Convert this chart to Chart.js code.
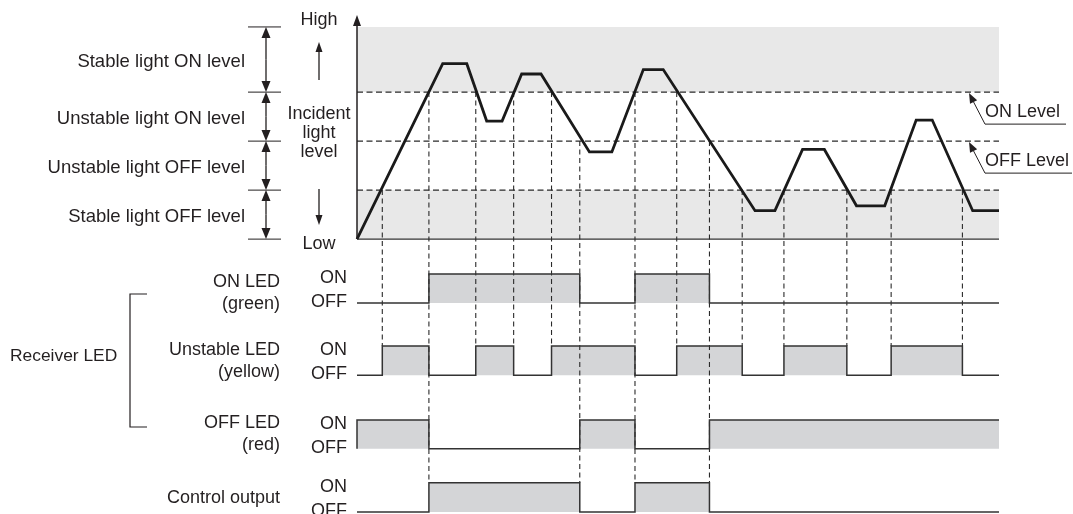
<!DOCTYPE html>
<html>
<head>
<meta charset="utf-8">
<script src="https://cdn.jsdelivr.net/npm/chart.js@4.4.1/dist/chart.umd.min.js"></script>
<style>
  html, body { margin: 0; padding: 0; background: #fff; }
  #wrap { width: 1073px; height: 514px; }
</style>
</head>
<body>
<div id="wrap"><canvas id="timing"></canvas></div>
<script>
// incident light waveform: time and level (0 = Low)
const lightTimes  = [0, 13.35, 17.1, 20.2, 22.6, 25.65, 28.66, 36.2, 39.7, 44.6, 47.7, 62.0, 65.1, 69.4, 72.8, 77.8, 82.2, 87.1, 89.6, 95.9, 100];
const lightLevels = [0, 3.58, 3.58, 2.41, 2.41, 3.37, 3.37, 1.78, 1.78, 3.46, 3.46, 0.58, 0.58, 1.83, 1.83, 0.68, 0.68, 2.43, 2.43, 0.58, 0.58];

// level boundaries: stable OFF | OFF Level | ON Level, and top of the scale
const thresholds = [1, 2, 3];
const levelTop = 4.33;

// moments the waveform crosses a boundary, which boundary, and which row the guide reaches
const crossTimes  = [3.94, 11.2, 18.5, 24.4, 30.3, 34.7, 43.3, 49.8, 54.9, 60.0, 66.5, 76.3, 83.2, 94.3];
const crossLevels = [1, 3, 3, 3, 3, 2, 3, 3, 2, 1, 1, 1, 1, 1];
const crossReach  = [1, 3, 1, 1, 1, 3, 3, 1, 3, 1, 1, 1, 1, 1];

// output signals: edge times and state after each edge (1 = ON)
const onLedEdges    = [0, 11.2, 34.7, 43.3, 54.9, 100];
const onLedStates   = [0, 1, 0, 1, 0, 0];
const unstEdges     = [0, 3.94, 11.2, 18.5, 24.4, 30.3, 43.3, 49.8, 60.0, 66.5, 76.3, 83.2, 94.3, 100];
const unstStates    = [0, 1, 0, 1, 0, 1, 0, 1, 0, 1, 0, 1, 0, 0];
const offLedEdges   = [0, 0, 11.2, 34.7, 43.3, 54.9, 100];
const offLedStates  = [0, 1, 0, 1, 0, 1, 1];
const ctrlEdges     = [0, 11.2, 34.7, 43.3, 54.9, 100];
const ctrlStates    = [0, 1, 0, 1, 0, 0];

const levelNames = ['Stable light ON level', 'Unstable light ON level', 'Unstable light OFF level', 'Stable light OFF level'];

// layout of the signal rows below the level plot (same y units)
const rows = [
  { label: ['ON LED', '(green)'], high: -0.714, low: -1.306, dy: 4, edges: onLedEdges, states: onLedStates },
  { label: ['Unstable LED', '(yellow)'], high: -2.18, low: -2.78, dy: 0, edges: unstEdges, states: unstStates },
  { label: ['OFF LED', '(red)'], high: -3.69, low: -4.28, dy: 0, edges: offLedEdges, states: offLedStates },
  { label: ['Control output'], high: -4.97, low: -5.57, dy: 1, edges: ctrlEdges, states: ctrlStates }
];

const ink = '#231f20';
const font = '18px "Liberation Sans", Arial, sans-serif';

function arrowTo(ctx, x0, y0, x1, y1, len, half) {
  const a = Math.atan2(y1 - y0, x1 - x0);
  const bx = x1 - len * Math.cos(a), by = y1 - len * Math.sin(a);
  const px = -Math.sin(a) * half, py = Math.cos(a) * half;
  ctx.beginPath();
  ctx.moveTo(x0, y0);
  ctx.lineTo(bx, by);
  ctx.stroke();
  ctx.beginPath();
  ctx.moveTo(x1, y1);
  ctx.lineTo(bx + px, by + py);
  ctx.lineTo(bx - px, by - py);
  ctx.closePath();
  ctx.fill();
}

function line(ctx, x0, y0, x1, y1) {
  ctx.beginPath();
  ctx.moveTo(x0, y0);
  ctx.lineTo(x1, y1);
  ctx.stroke();
}

const annotate = {
  id: 'annotate',
  afterDraw(chart) {
    const ctx = chart.ctx;
    const X = v => chart.scales.x.getPixelForValue(v);
    const Y = v => chart.scales.y.getPixelForValue(v);
    ctx.save();
    ctx.fillStyle = ink;
    ctx.strokeStyle = ink;
    ctx.font = font;
    ctx.textBaseline = 'middle';

    // vertical axis with arrow
    ctx.lineWidth = 1.5;
    arrowTo(ctx, X(0), Y(0), X(0), 15, 11, 4);

    // level names and dimension arrows
    const marks = [levelTop, 3, 2, 1, 0];
    ctx.textAlign = 'right';
    ctx.font = '18.5px "Liberation Sans", Arial, sans-serif';
    for (let i = 0; i < levelNames.length; i++) {
      ctx.fillText(levelNames[i], 245, (Y(marks[i]) + Y(marks[i + 1])) / 2 + 2);
    }
    ctx.font = font;
    ctx.lineWidth = 1;
    marks.forEach(m => line(ctx, 248, Y(m), 281, Y(m)));
    ctx.lineWidth = 1.3;
    for (let i = 0; i < 4; i++) {
      const a = Y(marks[i]), b = Y(marks[i + 1]);
      const mid = (a + b) / 2;
      arrowTo(ctx, 266, mid, 266, a, 11, 4.5);
      arrowTo(ctx, 266, mid, 266, b, 11, 4.5);
    }

    // High / Low and the incident light caption
    ctx.textAlign = 'center';
    ctx.fillText('High', 319, Y(levelTop) - 7);
    ctx.fillText('Low', 319, Y(0) + 5);
    ['Incident', 'light', 'level'].forEach((s, i) => ctx.fillText(s, 319, 114 + i * 19));
    ctx.lineWidth = 1.3;
    arrowTo(ctx, 319, 80, 319, 42, 10, 3.5);
    arrowTo(ctx, 319, 189, 319, 225, 10, 3.5);

    // ON / OFF level call-outs
    ctx.textAlign = 'left';
    ctx.lineWidth = 1;
    [[3, 'ON Level', 1066], [2, 'OFF Level', 1072]].forEach(([lv, txt, end]) => {
      const ty = Y(lv) + 1;
      const by = ty + 31;
      arrowTo(ctx, 985, by, 969, ty, 10, 4);
      line(ctx, 985, by, end, by);
      ctx.fillText(txt, 985, by - 12);
    });

    // signal row labels
    rows.forEach(r => {
      const top = Y(r.high), bot = Y(r.low);
      const mid = (top + bot) / 2 + r.dy;
      ctx.textAlign = 'right';
      if (r.label.length === 2) {
        ctx.fillText(r.label[0], 280, mid - 11);
        ctx.fillText(r.label[1], 280, mid + 11);
      } else {
        ctx.fillText(r.label[0], 280, mid);
      }
      ctx.fillText('ON', 347, top + 4);
      ctx.fillText('OFF', 347, bot - 1);
    });

    // receiver LED bracket
    ctx.textAlign = 'left';
    ctx.font = '17.4px "Liberation Sans", Arial, sans-serif';
    ctx.fillText('Receiver LED', 10, 356);
    ctx.lineWidth = 1.2;
    ctx.beginPath();
    ctx.moveTo(147, 294);
    ctx.lineTo(130, 294);
    ctx.lineTo(130, 427);
    ctx.lineTo(147, 427);
    ctx.stroke();
    ctx.restore();
  }
};

const flat = (x0, x1, v) => [{ x: x0, y: v }, { x: x1, y: v }];

const thresholdData = [];
thresholds.forEach(v => thresholdData.push(...flat(0, 100, v), { x: 100, y: null }));

const guideData = [];
crossTimes.forEach((t, i) => {
  guideData.push({ x: t, y: crossLevels[i] }, { x: t, y: rows[crossReach[i]].high }, { x: t, y: null });
});

const datasets = [
  {
    data: lightTimes.map((t, i) => ({ x: t, y: lightLevels[i] })),
    borderColor: '#1a1a1a', borderWidth: 2.8, order: 0
  },
  {
    data: guideData, borderColor: '#2a2a2a', borderWidth: 1.1,
    borderDash: [5, 3.5], spanGaps: false, order: 2
  },
  {
    data: thresholdData, borderColor: '#2a2a2a', borderWidth: 1.1,
    borderDash: [6, 3.5], spanGaps: false, order: 2
  },
  { data: flat(0, 100, 0), borderColor: '#333', borderWidth: 1.3, order: 2 },
  {
    data: flat(0, 100, levelTop), borderWidth: 0, fill: { value: 3 },
    backgroundColor: '#e8e8e8', order: 3
  },
  {
    data: flat(0, 100, 1), borderWidth: 0, fill: { value: 0 },
    backgroundColor: '#e8e8e8', order: 3
  }
];

rows.forEach(r => {
  datasets.push({
    data: r.edges.map((t, i) => ({ x: t, y: r.low + r.states[i] * (r.high - r.low) })),
    stepped: true,
    fill: { value: r.low },
    backgroundColor: '#d4d5d7',
    borderColor: '#333', borderWidth: 1.5, order: 1
  });
});

datasets.forEach(d => { d.pointRadius = 0; d.tension = 0; d.clip = false; });

new Chart(document.getElementById('timing'), {
  type: 'line',
  data: { datasets: datasets },
  options: {
    responsive: true,
    maintainAspectRatio: false,
    animation: false,
    layout: { padding: { left: 357, right: 74, top: 0, bottom: 0 } },
    scales: {
      x: { type: 'linear', min: 0, max: 100, display: false },
      y: { type: 'linear', min: -5.61, max: 4.88, display: false }
    },
    plugins: {
      legend: { display: false },
      tooltip: { enabled: false },
      filler: { drawTime: 'beforeDatasetsDraw' }
    }
  },
  plugins: [annotate]
});
</script>
</body>
</html>
